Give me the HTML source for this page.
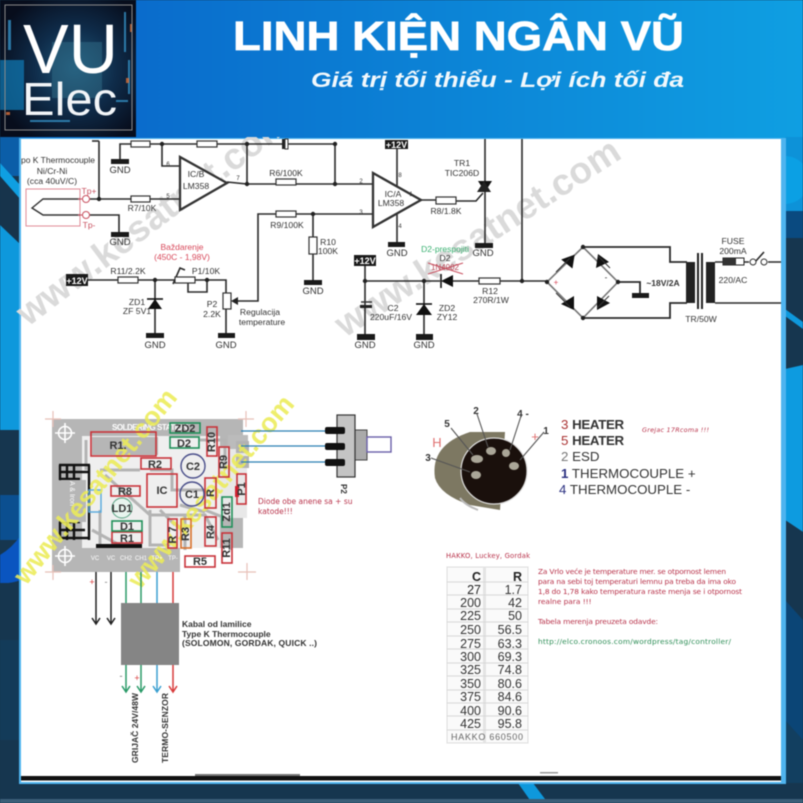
<!DOCTYPE html>
<html><head><meta charset="utf-8"><style>
html,body{margin:0;padding:0;background:#16364f}
svg{display:block;filter:blur(.6px)}
text{font-family:"Liberation Sans",sans-serif;fill:#333}
.s{font-size:8.6px;text-anchor:middle;fill:#444}
.g{font-size:9.5px;text-anchor:middle;fill:#333}
.p{font-size:6px;fill:#333;text-anchor:middle}
.w{stroke:#2a2a2a;stroke-width:1.6;fill:none}
.b{fill:#fff;stroke:#333;stroke-width:1.2}
.wm{font-size:37px;fill:#dadada;font-weight:700}
.ym{font-size:27px;fill:#ecec58;font-weight:700}
.pc{font-size:11px;font-weight:700;fill:#222;text-anchor:middle}
.rr{fill:none;stroke:#c8333a;stroke-width:1.6}
.gr{fill:none;stroke:#1f8f58;stroke-width:1.6}
.tk{stroke:#b4b4b4;stroke-width:3;fill:none}
.t{font-size:12.5px;fill:#3a3a3a;text-anchor:end;font-family:"DejaVu Sans",sans-serif}
.rd{font-size:7.4px;fill:#b8324a;font-family:"DejaVu Sans",sans-serif}
.con{font-size:13.3px;fill:#333;font-family:"DejaVu Sans",sans-serif}
.pin{font-size:10px;font-weight:700;fill:#333;text-anchor:middle}
</style></head><body>
<svg width="803" height="803" viewBox="0 0 803 803" xmlns="http://www.w3.org/2000/svg">
<defs>
<linearGradient id="h" x1="0" y1="0" x2="1" y2="0"><stop offset=".17" stop-color="#0a6ccc"/><stop offset="1" stop-color="#0f9fe2"/></linearGradient>
<radialGradient id="lg" cx=".55" cy=".5" r=".6"><stop offset="0" stop-color="#1f5a7c"/><stop offset=".5" stop-color="#0f2c4a"/><stop offset="1" stop-color="#070d1c"/></radialGradient>
</defs>
<rect width="803" height="803" fill="#16364f"/>
<rect x="0" y="0" width="803" height="140" fill="url(#h)"/>
<!-- left strip -->
<rect x="0" y="136" width="21" height="40" fill="#0b5ea8"/>
<polygon points="0,165 21,190 21,245 0,225" fill="#17344c"/>
<polygon points="0,163 21,186 21,200 0,176" fill="#0f9fe2"/>
<polygon points="0,225 21,245 21,430 0,430" fill="#0e98dc"/>
<rect x="0" y="430" width="21" height="65" fill="#16364f"/>
<rect x="0" y="495" width="21" height="45" fill="#0b4f90"/>
<path d="M0,555 Q12,548 21,535 V580 Q10,584 0,583Z" fill="#0a55c0"/>
<rect x="0" y="583" width="21" height="200" fill="#16364f"/>
<rect x="0" y="640" width="21" height="100" fill="#123f60" opacity=".6"/>
<!-- right strip -->
<rect x="785" y="136" width="18" height="80" fill="#0d92d8"/>
<circle cx="785" cy="180" r="24" fill="#0ca6ea" opacity=".7"/>
<rect x="785" y="211" width="18" height="30" fill="#0a4a80"/>
<rect x="785" y="238" width="18" height="135" fill="#16364f"/>
<polygon points="785,309 803,322 803,329 785,316" fill="#0e98dc"/>
<polygon points="785,369 803,365 803,532 785,520" fill="#0d9be0"/>
<polygon points="785,520 803,532 803,620 785,600" fill="#16364f"/>
<polygon points="785,600 803,620 803,783 785,783" fill="#0b4576"/>
<polygon points="785,720 803,740 803,783 785,783" fill="#123f60"/>
<!-- bottom stripe -->
<polygon points="518,783 533,783 548,803 532,803" fill="#0e98dc"/>
<rect x="0" y="799" width="803" height="4" fill="#3b5f78"/>
<!-- panel -->
<rect x="19" y="138" width="767" height="646" fill="#4fb4ef"/>
<rect x="21" y="139" width="760" height="643" fill="#fff"/>
<rect x="21" y="776" width="760" height="4.5" fill="#111"/>
<rect x="195" y="774" width="105" height="2" fill="#777"/>
<rect x="540" y="772" width="18" height="1.5" fill="#999"/>

<!-- watermarks -->
<text class="wm" transform="translate(28,327) rotate(-37)">www.kesatnet.com</text>
<text class="wm" transform="translate(345,338) rotate(-33)">www.kesatnet.com</text>
<rect x="0" y="0" width="803" height="137" fill="url(#h)"/>

<!-- logo -->
<rect x="0" y="0" width="136" height="137" fill="url(#lg)"/>
<rect x="52" y="42" width="50" height="56" fill="#2f6a85" opacity=".55"/>
<rect x="0" y="60" width="24" height="50" fill="#0f7cb8" opacity=".7"/>
<g fill="#3aa0d8" opacity=".7"><rect x="8" y="20" width="3" height="30"/><rect x="124" y="12" width="2" height="40"/><rect x="128" y="60" width="2" height="34"/><rect x="116" y="100" width="12" height="2"/><rect x="30" y="120" width="40" height="2"/></g>
<g fill="#d8703a" opacity=".8"><rect x="130" y="24" width="2" height="8"/><rect x="126" y="78" width="3" height="5"/><rect x="6" y="112" width="4" height="3"/></g>
<rect x="5" y="5" width="127" height="125" fill="none" stroke="#8a8a8a" stroke-width="1"/>
<text x="23" y="73" font-size="70" textLength="95" lengthAdjust="spacingAndGlyphs" style="fill:#fff">VU</text>
<text x="22" y="115" font-size="46" textLength="95" lengthAdjust="spacingAndGlyphs" style="fill:#f2f5f8">Elec</text>

<!-- header text -->
<text x="233" y="50" font-size="41" font-weight="700" textLength="451" lengthAdjust="spacingAndGlyphs" style="fill:#fff;stroke:#fff;stroke-width:.7">LINH KIỆN NGÂN VŨ</text>
<text x="311" y="87" font-size="21" font-style="italic" font-weight="700" textLength="373" lengthAdjust="spacingAndGlyphs" style="fill:#f2f8fc">Giá trị tối thiểu - Lợi ích tối đa</text>

<!-- schematic: wires -->
<g class="w">
<path d="M99,141 V199 M90,199 H131 M150,199 H180"/>
<path d="M92,141 L99,141"/>
<path d="M120,159 V144 H131 M150,144 H197 M217,144 H282 M288,144 H335 V184"/>
<path d="M162,144 V166 H180"/>
<path d="M227,182 L247,184 V144 M247,184 H276 M296,184 H373"/>
<path d="M373,214 H296 M276,214 H258 V301 H238"/>
<path d="M313,214 V237 M313,254 V281"/>
<path d="M90,215 H119 V232"/>
<path d="M88,280 H118 M138,280 H175 M195,280 H226 V293 M226,309 V334"/>
<path d="M155,280 V334"/>
<path d="M188,283 V292 H207 V280"/>
<path d="M173,284 L180,268 L185,270"/>
<path d="M397,149 V243"/>
<path d="M421,200 H436 M456,201 H476 L483,193"/>
<path d="M485,139 V244"/>
<path d="M522,139 V281"/>
<path d="M365,266 V334 M365,281 H440 M453,281 H479 M500,281 H547"/>
<path d="M424,281 V334"/>
<path d="M583,247 L547,282 L583,318 L618,282 Z" stroke="#777"/>
<path d="M583,247 H670 V262 H687 M583,318 H670 V303 H687" stroke-width="1.8"/>
<path d="M618,282 H640 V293" stroke-width="1.8"/>
<path d="M715,262 H723 M744,262 H749 M768,262 H781 M715,303 H781"/>
<path d="M755,262 L764,252"/>
</g>
<!-- resistors -->
<g class="b">
<rect x="131" y="141" width="19" height="6"/><rect x="197" y="141" width="20" height="6"/>
<rect x="131" y="196" width="19" height="6"/><rect x="276" y="179" width="20" height="6"/>
<rect x="276" y="211" width="20" height="6"/><rect x="309" y="237" width="8" height="17"/>
<rect x="118" y="277" width="20" height="6"/><rect x="175" y="277" width="20" height="6"/>
<rect x="223" y="293" width="8" height="16"/><rect x="436" y="197" width="20" height="7"/>
<rect x="479" y="278" width="21" height="6"/>
</g>
<rect x="282" y="139" width="3" height="10" fill="#222"/><rect x="285" y="139" width="3" height="10" fill="#fff" stroke="#333"/>
<polygon points="231,301 238,297 238,305" fill="#222"/>
<!-- opamps -->
<polygon points="180,157 180,210 227,183" fill="#fff" stroke="#333" stroke-width="2.3"/>
<polygon points="373,173 373,227 421,200" fill="#fff" stroke="#333" stroke-width="2.3"/>
<!-- junctions -->
<g fill="#222">
<circle cx="99" cy="199" r="2.2"/><circle cx="162" cy="144" r="2.2"/><circle cx="247" cy="144" r="2.2"/><circle cx="335" cy="144" r="2.2"/>
<circle cx="247" cy="184" r="2.2"/><circle cx="335" cy="184" r="2.2"/><circle cx="313" cy="214" r="2.2"/>
<circle cx="155" cy="280" r="2.2"/><circle cx="207" cy="280" r="2.2"/><circle cx="365" cy="281" r="2.2"/><circle cx="424" cy="281" r="2.2"/><circle cx="522" cy="281" r="2.2"/>
<circle cx="547" cy="282" r="2.2"/><circle cx="583" cy="247" r="2.2"/><circle cx="583" cy="318" r="2.2"/><circle cx="618" cy="282" r="2.2"/>
</g>
<!-- GND bars -->
<g fill="#1a1a1a">
<rect x="111" y="159" width="18" height="5"/><rect x="111" y="232" width="18" height="5"/>
<rect x="146" y="333" width="18" height="5"/><rect x="218" y="333" width="17" height="5"/>
<rect x="304" y="280" width="18" height="5"/><rect x="388" y="242" width="17" height="5"/>
<rect x="475" y="243" width="18" height="5"/><rect x="357" y="334" width="18" height="6"/>
<rect x="416" y="334" width="17" height="6"/><rect x="632" y="293" width="17" height="5"/>
</g>
<g class="g">
<text x="120" y="173">GND</text><text x="120" y="245">GND</text><text x="155" y="348">GND</text><text x="226" y="348">GND</text>
<text x="313" y="294">GND</text><text x="397" y="256">GND</text><text x="483" y="256">GND</text><text x="365" y="348">GND</text><text x="424" y="348">GND</text>
</g>
<!-- +12V -->
<g fill="#1a1a1a"><rect x="66" y="274" width="22" height="12"/><rect x="385" y="140" width="23" height="9"/><rect x="354" y="255" width="22" height="11"/></g>
<g font-size="9" font-weight="700" text-anchor="middle" style="font-weight:700">
<text x="77" y="284" style="fill:#fff">+12V</text><text x="396.500" y="148" style="fill:#fff">+12V</text><text x="365" y="264" style="fill:#fff">+12V</text>
</g>
<!-- thermocouple -->
<rect x="26" y="189" width="54" height="37" fill="none" stroke="#e08a96" stroke-width="1"/>
<path d="M80,199 H43 L32,208 L43,215 H80" fill="none" stroke="#333" stroke-width="1.4"/>
<circle cx="86" cy="199" r="3.500" fill="#fff" stroke="#c8505f"/><circle cx="86" cy="215" r="3.500" fill="#fff" stroke="#c8505f"/>
<path d="M78,199 H83 M78,215 H83" stroke="#c8505f"/>
<g class="s" style="fill:#555">
<text x="58" y="163" style="font-size:8.5px">po K Thermocouple</text>
<text x="52" y="174">Ni/Cr-Ni</text>
<text x="52" y="184">(cca 40uV/C)</text>
</g>
<text x="89" y="194" font-size="8.500" text-anchor="middle" style="fill:#c8505f">Tp+</text>
<text x="89" y="228" font-size="8.500" text-anchor="middle" style="fill:#c8505f">Tp-</text>
<!-- labels -->
<g class="s">
<text x="196" y="177">IC/B</text><text x="196" y="189">LM358</text>
<text x="393" y="197">IC/A</text><text x="391" y="206">LM358</text>
<text x="142" y="211">R7/10K</text><text x="286" y="176">R6/100K</text><text x="287" y="228">R9/100K</text>
<text x="328" y="245">R10</text><text x="328" y="254">100K</text>
<text x="128" y="274">R11/2.2K</text><text x="206" y="274">P1/10K</text>
<text x="137" y="305">ZD1</text><text x="137" y="314">ZF 5V1</text>
<text x="212" y="307">P2</text><text x="212" y="317">2.2K</text>
<text x="260" y="315">Regulacija</text><text x="262" y="325">temperature</text>
<text x="462" y="166">TR1</text><text x="462" y="176">TIC206D</text><text x="446" y="214">R8/1.8K</text>
<text x="393" y="311">C2</text><text x="391" y="320">220uF/16V</text>
<text x="447" y="311">ZD2</text><text x="447" y="320">ZY12</text>
<text x="490" y="294">R12</text><text x="491" y="303">270R/1W</text>
<text x="445" y="261">D2</text>
<text x="733" y="244">FUSE</text><text x="733" y="254">200mA</text><text x="733" y="283">220/AC</text>
<text x="701" y="322">TR/50W</text>
</g>
<text x="663" y="286" font-size="8.500" font-weight="700" text-anchor="middle" style="font-weight:700">~18V/2A</text>
<text x="182" y="250" font-size="8.500" text-anchor="middle" style="fill:#d8485a">Baždarenje</text>
<text x="182" y="260" font-size="8.500" text-anchor="middle" style="fill:#d8485a">(450C - 1,98V)</text>
<text x="445" y="252" font-size="8.500" text-anchor="middle" style="fill:#38b070">D2-prespojiti</text>
<text x="445" y="270" font-size="8" text-anchor="middle" style="fill:#b04050">1N4002</text>
<path d="M428,263 L463,274 M428,274 L463,263" stroke="#c8505f"/>
<g class="p">
<text x="168" y="166">6</text><text x="168" y="198">5</text><text x="238" y="180">7</text><text x="361" y="183">2</text><text x="361" y="214">3</text>
<text x="400" y="177">8</text><text x="400" y="228">4</text><text x="411" y="196">1</text>
</g>
<!-- zeners and diodes -->
<polygon points="155,299 148,309 162,309" fill="#111"/><path d="M147,299 H163" stroke="#111" stroke-width="1.6"/>
<polygon points="424,304 416,315 432,315" fill="#111"/><path d="M416,304 H432" stroke="#111" stroke-width="1.6"/>
<polygon points="441,281 453,275 453,287" fill="#111"/><path d="M441,274 V288" stroke="#111" stroke-width="1.6"/>
<path d="M361,302 H372" stroke="#333" stroke-width="1.5"/><rect x="360" y="305" width="12" height="3" fill="#222"/>
<!-- triac -->
<polygon points="478,181 492,181 485,192" fill="#111"/><polygon points="477,192 491,192 484,181" fill="#222"/>
<!-- bridge -->
<g fill="#111">
<polygon points="561,260 573,268 574,254" transform="rotate(5 567 262)"/><polygon points="596,268 609,262 598,254"/>
<polygon points="561,304 574,296 574,310"/><polygon points="597,296 610,303 597,310"/>
</g>
<path d="M556,272 L570,258 M598,256 L610,268 M556,293 L570,307 M597,308 L609,296" stroke="#333"/>
<text x="556" y="285" font-size="8" text-anchor="middle" style="fill:#d8485a">+</text>
<text x="606" y="280" font-size="8" text-anchor="middle" style="fill:#222">-</text>
<!-- transformer -->
<rect x="686" y="262" width="9" height="41" fill="#222"/><rect x="706" y="262" width="9" height="41" fill="#222"/>
<rect x="697" y="253" width="2" height="56" fill="#222"/><rect x="701" y="253" width="2" height="56" fill="#222"/>
<rect x="723" y="258" width="21" height="7" fill="#fff" stroke="#222"/><rect x="723" y="258" width="13" height="7" fill="#333"/>
<circle cx="753" cy="262" r="3" fill="#fff" stroke="#333"/><circle cx="764" cy="262" r="3" fill="#fff" stroke="#333"/>

<!-- PCB -->
<rect x="52" y="419" width="191" height="153" fill="#b6b6b6"/>
<rect x="82" y="436" width="138" height="112" fill="#efefef"/>
<rect x="220" y="448" width="27" height="70" fill="#e8e8e8"/>
<rect x="180" y="548" width="63" height="24" fill="#fff"/>
<rect x="228" y="435" width="20" height="14" fill="#bbb"/><rect x="236" y="441" width="13" height="12" fill="#b2b2b2"/><rect x="236" y="456" width="13" height="12" fill="#b2b2b2"/>
<rect x="92" y="437" width="66" height="18" fill="#b6b6b6"/>
<g class="tk">
<path d="M86,440 V470 M100,470 H140 M150,470 H172 V490 H205"/>
<path d="M105,475 L150,515 H205 L218,540"/>
<path d="M100,510 V548 M92,530 L125,548"/>
<path d="M180,505 L205,512 M185,515 V550 M160,510 L175,525"/>
<path d="M200,440 H225 V470 M205,510 L230,520 V550"/>
<path d="M150,510 V545 H170"/>
</g>
<g fill="#b6b6b6">
<rect x="89" y="550" width="13" height="22"/><rect x="105" y="550" width="12" height="22"/><rect x="120" y="550" width="12" height="22"/>
<rect x="136" y="550" width="11" height="22"/><rect x="151" y="550" width="12" height="22"/><rect x="167" y="550" width="11" height="22"/>
</g>
<!-- crosshairs -->
<g fill="none" stroke="#fff" stroke-width="1.6">
<circle cx="65" cy="433" r="6.500"/><path d="M55,433 H75 M65,423 V443"/>
<circle cx="65" cy="556" r="6.500"/><path d="M55,556 H75 M65,546 V566"/>
</g>
<g stroke="#e8c0b8" stroke-width="1.2"><path d="M53,411 V427 M45,419 H61 M246,411 V427 M238,419 H254 M247,563 V580 M238,572 H256 M53,565 V580 M45,572 H61"/></g>
<!-- connector left -->
<g stroke="#111" fill="none" stroke-width="2.4">
<path d="M59,465 H90 M59,472 H88 M59,479 H80"/>
<path d="M60,465 V480 M67,465 V480 M74,465 V480 M89,465 V540"/>
<path d="M59,522 H80 M59,530 H85 M59,538 H89 M60,522 V540 M67,522 V540 M74,522 V540"/>
</g>
<rect x="61" y="480" width="25" height="42" fill="#b6b6b6"/>
<rect x="89" y="490" width="12" height="22" fill="none" stroke="#55a8dd" stroke-width="1.400"/>
<rect x="96" y="544" width="46" height="4" fill="#111"/>
<text x="63" y="492" font-size="7" transform="rotate(90 72 490)" style="fill:#fff">A &amp; Iron</text>
<!-- top silk -->
<text x="150" y="430" font-size="8" font-weight="700" text-anchor="middle" style="fill:#fff;font-weight:700" textLength="76">SOLDERING STATION</text>
<!-- yellow watermarks beneath parts -->
<g opacity=".88">
<text class="ym" transform="translate(26,586) rotate(-51)">www.kesatnet.com</text>
<text class="ym" transform="translate(140,590) rotate(-50)">www.kesatnet.com</text>
</g>
<!-- parts -->
<g class="rr">
<rect x="91" y="432" width="65" height="24"/><rect x="207" y="427" width="10" height="29"/><rect x="219" y="447" width="10" height="30"/>
<rect x="141" y="458" width="30" height="11"/><rect x="147" y="474" width="30" height="33"/><rect x="111" y="486" width="29" height="10"/>
<rect x="237" y="474" width="9" height="30"/><rect x="205" y="478" width="11" height="30"/>
<rect x="112" y="532" width="30" height="11"/><rect x="168" y="519" width="9" height="29"/><rect x="205" y="517" width="11" height="29"/>
<rect x="222" y="533" width="10" height="30"/><rect x="185" y="556" width="30" height="11"/>
</g>
<rect x="181" y="519" width="10" height="29" fill="none" stroke="#d9702a" stroke-width="1.6"/>
<rect x="235" y="486" width="4" height="11" fill="#d02030"/>
<g class="gr">
<rect x="170" y="423" width="30" height="10"/><rect x="170" y="437" width="29" height="11"/><rect x="112" y="521" width="30" height="10"/><rect x="222" y="497" width="10" height="30"/>
</g>
<circle cx="193" cy="466" r="12" fill="none" stroke="#4a4f8a" stroke-width="1.4"/>
<circle cx="192" cy="494" r="12" fill="none" stroke="#4a4f8a" stroke-width="1.4"/>
<circle cx="122" cy="508" r="10" fill="#e8f4ee" stroke="#55a080" stroke-width="1"/>
<g class="pc">
<text x="118" y="449">R1.</text><text x="185" y="432">ZD2</text><text x="184" y="447">D2</text>
<text x="155" y="468">R2</text><text x="193" y="470">C2</text><text x="192" y="498">C1</text><text x="162" y="494">IC</text>
<text x="125" y="495">R8</text><text x="122" y="512">LD1</text><text x="127" y="530">D1</text><text x="127" y="542">R1</text>
<text x="200" y="565">R5</text>
<text transform="translate(215,442) rotate(-90)">R10</text>
<text transform="translate(227,462) rotate(-90)">R9</text>
<text transform="translate(245,489) rotate(-90)">P1</text>
<text transform="translate(214,493) rotate(-90)">R</text>
<text transform="translate(230,512) rotate(-90)">Zd1</text>
<text transform="translate(176,535) rotate(-90)">R 7</text>
<text transform="translate(189,534) rotate(-90)">R3</text>
<text transform="translate(214,532) rotate(-90)">R4</text>
<text transform="translate(230,548) rotate(-90)">R11</text>
</g>
<g font-size="6" text-anchor="middle">
<text x="95" y="560" style="fill:#fff">VC</text><text x="111" y="560" style="fill:#fff">VC</text><text x="126" y="560" style="fill:#fff">CH2</text><text x="141" y="560" style="fill:#fff">CH1</text><text x="157" y="560" style="fill:#fff">TP+</text><text x="173" y="560" style="fill:#fff">TP-</text>
</g>
<!-- switch -->
<g stroke-width="1.300" fill="none">
<path d="M241,431 H326 M241,446 H326 M241,462 H326" stroke="#2a7fb5"/>
</g>
<rect x="355" y="430" width="12" height="30" fill="#aaa" stroke="#444"/>
<rect x="367" y="437" width="24" height="15" fill="#fff" stroke="#6a5fa8" stroke-width="1.4"/>
<rect x="337" y="415" width="18" height="62" fill="#c4c4c4" stroke="#333" stroke-width="1.2"/>
<g fill="#111"><rect x="325" y="427" width="20" height="7" rx="2"/><rect x="325" y="443" width="20" height="7" rx="2"/><rect x="325" y="459" width="20" height="7" rx="2"/></g>
<text transform="translate(341,484) rotate(90)" font-size="8" font-weight="700" style="font-weight:700">P2</text>
<text x="258" y="504" class="rd" style="font-size:7.5px">Diode obe anene sa + su</text>
<text x="258" y="514" class="rd" style="font-size:7.5px">katode!!!</text>
<!-- cable -->
<g stroke-width="1.5" fill="none">
<path d="M96,572 V624 M92,618 L96,624 L100,618 M111,572 V624 M107,618 L111,624 L115,618" stroke="#222"/>
<path d="M126,572 V692 M122,686 L126,692 L130,686 M141,572 V692 M137,686 L141,692 L145,686" stroke="#2a9a68"/>
<path d="M157,572 V692 M153,686 L157,692 L161,686" stroke="#3a9fd0"/>
<path d="M173,572 V692 M169,686 L173,692 L177,686" stroke="#d83a3a"/>
</g>
<rect x="121" y="603" width="58" height="62" fill="#858585"/>
<text x="92" y="585" font-size="9" text-anchor="middle" style="fill:#d83a3a">+</text><text x="106" y="585" font-size="9" text-anchor="middle" style="fill:#777">-</text>
<text x="121" y="679" font-size="9" text-anchor="middle" style="fill:#666">-</text><text x="137" y="681" font-size="9" text-anchor="middle" style="fill:#d83a3a">+</text>
<g font-size="8.500" font-weight="700" style="font-weight:700">
<text x="182" y="627">Kabal od lamilice</text><text x="182" y="637">Type K Thermocouple</text><text x="182" y="646" textLength="135">(SOLOMON, GORDAK, QUICK ..)</text>
<text transform="translate(138,763) rotate(-90)" textLength="70">GRIJAČ 24V/48W</text>
<text transform="translate(168,763) rotate(-90)" textLength="70">TERMO-SENZOR</text>
</g>
<!-- iron connector -->
<path d="M435,478 Q430,445 470,432 L505,432 L500,510 L470,505 Q440,495 435,478Z" fill="#7d7862"/>
<circle cx="494" cy="471" r="33" fill="#1a100c" stroke="#ddd" stroke-width="1.200"/>
<path d="M478,510 Q465,505 460,498" fill="none" stroke="#bbb" stroke-width="2"/>
<g fill="#aaa698"><ellipse cx="491" cy="451" rx="5" ry="4"/><ellipse cx="506" cy="453" rx="4" ry="4"/><ellipse cx="514" cy="466" rx="5" ry="4"/><ellipse cx="477" cy="459" rx="6" ry="4"/><ellipse cx="476" cy="475" rx="5" ry="4"/></g>
<g stroke="#555" stroke-width="1.100" fill="none">
<path d="M451,428 L473,455 M477,414 L488,447 M521,416 L510,450 M544,432 L520,460 M431,458 L470,472"/>
</g>
<g class="pin"><text x="447" y="427">5</text><text x="476" y="414">2</text><text x="523" y="417">4 -</text><text x="546" y="434">1</text><text x="428" y="461">3</text></g>
<text x="535" y="441" font-size="13" text-anchor="middle" style="fill:#e07070">+</text>
<text x="437" y="447" font-size="13" text-anchor="middle" style="fill:#e07070">H</text>
<g class="con">
<text x="561" y="429" style="fill:#a33"><tspan style="fill:#a33">3</tspan> <tspan style="fill:#333;font-weight:700" textLength="52">HEATER</tspan></text>
<text x="561" y="445" style="fill:#a33"><tspan style="fill:#a33">5</tspan> <tspan style="fill:#333;font-weight:700" textLength="52">HEATER</tspan></text>
<text x="561" y="461" style="fill:#777">2 <tspan style="fill:#333">ESD</tspan></text>
<text x="561" y="478"><tspan style="fill:#2a2f80;font-weight:700">1</tspan> THERMOCOUPLE +</text>
<text x="559" y="494"><tspan style="fill:#2a2f80">4</tspan> THERMOCOUPLE -</text>
</g>
<text x="642" y="432" class="rd" style="font-size:6.4px;font-style:italic" textLength="67">Grejac 17Rcoma !!!</text>
<!-- table -->
<text x="446" y="558" class="rd" style="font-size:6.8px" textLength="84">HAKKO, Luckey, Gordak</text>
<rect x="447" y="567" width="81" height="176" fill="#fafafa" stroke="#ddd"/>
<rect x="483" y="567" width="3" height="176" fill="#e4e4e4"/>
<g stroke="#d8d8d8"><path d="M447,582 H528 M447,595 H528 M447,609 H528 M447,622 H528 M447,636 H528 M447,649 H528 M447,663 H528 M447,676 H528 M447,690 H528 M447,703 H528 M447,716 H528 M447,730 H528"/></g>
<g class="t">
<text x="481" y="581" style="font-weight:700;fill:#222">C</text><text x="522" y="581" style="font-weight:700;fill:#222">R</text>
<text x="481" y="594" style="fill:#222">27</text><text x="522" y="594">1.7</text>
<text x="481" y="607">200</text><text x="522" y="607">42</text>
<text x="481" y="620">225</text><text x="522" y="620">50</text>
<text x="481" y="634">250</text><text x="522" y="634">56.5</text>
<text x="481" y="648">275</text><text x="522" y="648">63.3</text>
<text x="481" y="661">300</text><text x="522" y="661">69.3</text>
<text x="481" y="674">325</text><text x="522" y="674">74.8</text>
<text x="481" y="688">350</text><text x="522" y="688">80.6</text>
<text x="481" y="701">375</text><text x="522" y="701">84.6</text>
<text x="481" y="715">400</text><text x="522" y="715">90.6</text>
<text x="481" y="728">425</text><text x="522" y="728">95.8</text>
</g>
<text x="487" y="740" font-size="9" text-anchor="middle" style="fill:#666" textLength="72">HAKKO 660500</text>
<!-- notes -->
<text x="538" y="574" class="rd" textLength="188">Za Vrlo veće je temperature mer. se otpornost lemen</text>
<text x="538" y="584" class="rd" textLength="198">para na sebi toj temperaturi lemnu pa treba da ima oko</text>
<text x="538" y="594" class="rd" textLength="204">1,8 do 1,78 kako temperatura raste menja se i otpornost</text>
<text x="538" y="604" class="rd">realne para !!!</text>
<text x="538" y="624" class="rd" textLength="120">Tabela merenja preuzeta odavde:</text>
<text x="538" y="644" class="rd" textLength="193" style="fill:#2f8f58">http://elco.cronoos.com/wordpress/tag/controller/</text>
</svg>
</body></html>
